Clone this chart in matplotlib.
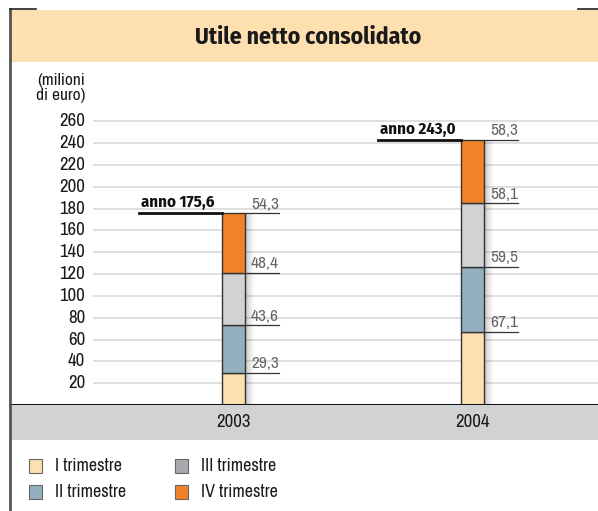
import numpy as np
import matplotlib
matplotlib.use("Agg")
import matplotlib.pyplot as plt
from matplotlib.patches import Rectangle

plt.rcParams['font.family'] = ['Archivo Narrow', 'Liberation Sans', 'DejaVu Sans']
BOLD = ['Fira Sans Condensed', 'Roboto Condensed', 'DejaVu Sans']

years = ['2003', '2004']
quarters = ['I trimestre', 'II trimestre', 'III trimestre', 'IV trimestre']
q1 = [29.3, 67.1]
q2 = [43.6, 59.5]
q3 = [48.4, 58.1]
q4 = [54.3, 58.3]
totals = ['175,6', '243,0']
yticks = [20, 40, 60, 80, 100, 120, 140, 160, 180, 200, 220, 240, 260]

bar_colors = ['#FDDFB0', '#94AFBD', '#D1D2D4', '#F28227']
legend_colors = ['#FDDFB0', '#94AFBD', '#A7A9AC', '#F28227']

W, H = 598, 511
fig = plt.figure(figsize=(W / 100, H / 100), dpi=100)

def fx(x):
    return x / W

def fy(y):
    return 1 - y / H

# title band
fig.patches.append(Rectangle((fx(10), fy(62)), fx(588), 52 / H, transform=fig.transFigure,
                             facecolor='#FDDFB0', edgecolor='none', zorder=0))
fig.text(fx(308), fy(37), 'Utile netto consolidato', ha='center', va='center',
         fontsize=17, fontweight='bold', family=BOLD, color='#1a1a1a')
# bottom grey band
fig.patches.append(Rectangle((fx(10), fy(440)), fx(588), 35 / H, transform=fig.transFigure,
                             facecolor='#D1D2D4', edgecolor='none', zorder=0))
# border lines
fig.add_artist(plt.Line2D([fx(10), fx(10)], [fy(9), 0], transform=fig.transFigure, color='#555555', lw=2))
fig.add_artist(plt.Line2D([fx(10), fx(36)], [fy(9.5), fy(9.5)], transform=fig.transFigure, color='#222222', lw=1.2))
fig.add_artist(plt.Line2D([fx(578), fx(598)], [fy(9.5), fy(9.5)], transform=fig.transFigure, color='#222222', lw=1.2))

# main axes: x=0 at px 233, x=1 at px 472
px_per_unit = 239.0
x0px = 233.0
ax = fig.add_axes([fx(10), fy(405), fx(588), (405 - 62) / H])
ax.set_xlim((10 - x0px) / px_per_unit, (598 - x0px) / px_per_unit)
unit_px = 21.83 / 20
ymax = (405 - 62) / unit_px
ax.set_ylim(0, ymax)
ax.axis('off')

grid_x0 = (93 - x0px) / px_per_unit
ax.hlines(yticks, grid_x0, ax.get_xlim()[1], colors='#D9D9D9', lw=1.2, zorder=1)
for t in yticks:
    ax.text((85 - x0px) / px_per_unit, t, str(t), ha='right', va='center', fontsize=13.5, color='#1a1a1a')
ax.text((85 - x0px) / px_per_unit, (405 - 88) / unit_px, '(milioni\ndi euro)', ha='right', va='center',
        fontsize=12.5, color='#1a1a1a', linespacing=0.95)

x = np.arange(len(years))
w = 23 / px_per_unit
series = [q1, q2, q3, q4]
tot = np.sum(series, axis=0)

# shadow to the right of the bars
for i in range(10):
    ax.bar(x + w / 2 + (i + 0.5) / px_per_unit, tot, width=1 / px_per_unit, color='#555555',
           alpha=0.35 * (1 - i / 10) ** 1.5, zorder=2, linewidth=0)

bottom = np.zeros(len(years))
for vals, c in zip(series, bar_colors):
    ax.bar(x, vals, w, bottom=bottom, color=c, edgecolor='#333333', linewidth=1, zorder=3)
    top = bottom + np.array(vals)
    for xi, tp, v in zip(x, top, vals):
        xr = xi + 0.192
        ax.plot([xi + w / 2, xr], [tp, tp], color='#333333', lw=0.9, zorder=4)
        ax.text(xr, tp + 1.5, f'{v:.1f}'.replace('.', ','), ha='right', va='bottom',
                fontsize=12.5, color='#666666')
    bottom = top

for xi, tp, lab in zip(x, tot, totals):
    ax.plot([xi - 0.393, xi - w / 2], [tp, tp], color='#111111', lw=2, zorder=4)
    ax.text(xi - 0.387, tp + 2.5, 'anno ' + lab, ha='left', va='bottom', fontsize=12,
            fontweight='bold', family=BOLD, color='#111111')

# base line
ax.axhline(0, color='#111111', lw=2.2, zorder=5, clip_on=False)

# year labels
for xi, yr in zip(x, years):
    fig.text(fx(x0px + xi * px_per_unit), fy(422), yr, ha='center', va='center', fontsize=13.5, color='#1a1a1a')

# legend
legend_pos = [(29, 459), (29, 485), (175, 459), (175, 485)]
for (lx, ly), c, q in zip(legend_pos, legend_colors, quarters):
    fig.patches.append(Rectangle((fx(lx), fy(ly + 14)), 13 / W, 14 / H, transform=fig.transFigure,
                                 facecolor=c, edgecolor='#666666', lw=0.8))
    fig.text(fx(lx + 26), fy(ly + 7), q, ha='left', va='center', fontsize=13, color='#1a1a1a')

fig.savefig('out.png', dpi=100, facecolor='white')
